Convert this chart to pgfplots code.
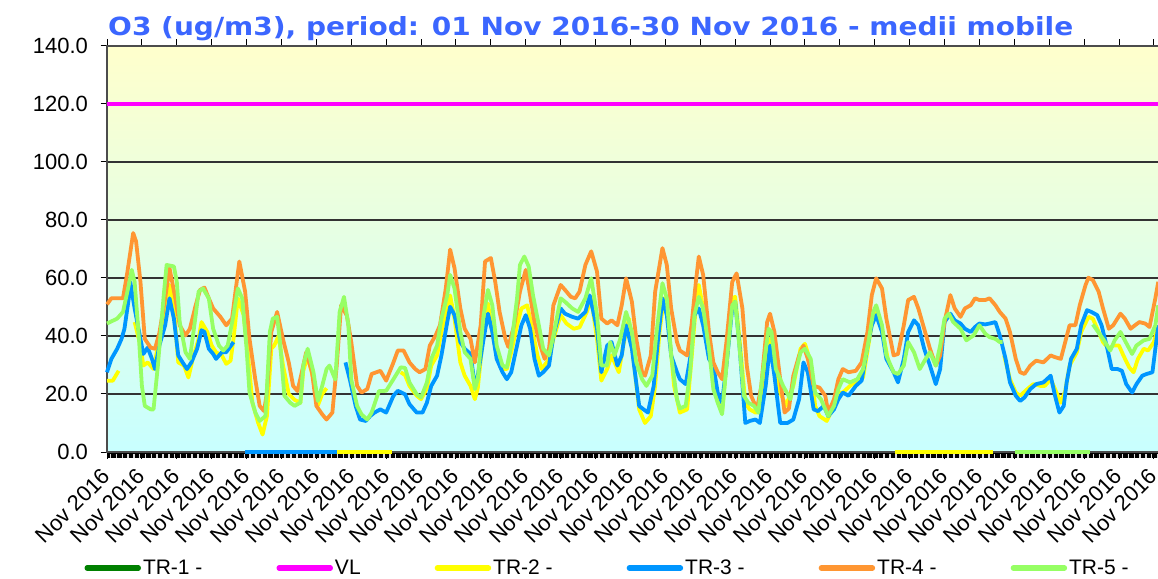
\documentclass[border=0pt]{standalone}
\usepackage{pgfplots}
\pgfplotsset{compat=1.18}
\usepackage{fontspec}
\setmainfont{Liberation Sans}
\newfontfamily\titlefont{DejaVu Sans}
\definecolor{tr1}{RGB}{0,128,0}
\definecolor{vl}{RGB}{255,0,255}
\definecolor{tr2}{RGB}{255,255,0}
\definecolor{tr3}{RGB}{0,150,255}
\definecolor{tr4}{RGB}{255,150,50}
\definecolor{tr5}{RGB}{150,255,100}
\definecolor{titleblue}{RGB}{59,102,255}
\definecolor{bgtop}{RGB}{255,255,204}
\definecolor{bgbot}{RGB}{200,255,255}
\begin{document}
\begin{tikzpicture}
% tick strip under the x axis (one mark every 4 hours)
\fill[black] (107pt,120pt) rectangle (1163pt,126pt);
\draw[white!85!black, line width=1.5pt, dash pattern=on 1.5pt off 4.316pt, dash phase=-2.9pt]
  (107pt,122pt) -- (1163pt,122pt);
\draw[white!85!black, line width=4pt, dash pattern=on 1.5pt off 4.316pt, dash phase=-2.9pt]
  (107pt,122pt) -- (1163pt,122pt);
\begin{axis}[
  at={(107pt,126pt)}, anchor=south west,
  scale only axis, width=1055.6pt, height=406pt,
  xmin=0, xmax=726, ymin=0, ymax=140,
  clip=false,
  unbounded coords=jump,
  axis background/.style={shade, top color=bgtop, bottom color=bgbot},
  axis line style={black!70, line width=1.2pt},
  ymajorgrids, major grid style={black!80, line width=1.2pt},
  ytick={0,20,...,140},
  xtick={0,24,...,720},
  xticklabel={Nov 2016},
  tick align=outside,
  major tick length=6.5pt,
  every tick/.style={black, line width=1pt},
  /pgf/number format/assume math mode=true,
  /pgf/number format/fixed, /pgf/number format/fixed zerofill, /pgf/number format/precision=1,
  yticklabel shift=9pt,
  yticklabel style={font=\fontsize{22}{26}\selectfont},
  xticklabel shift=13pt,
  xticklabel style={rotate=45, anchor=east, font=\fontsize{22}{26}\selectfont, inner sep=1pt},
  legend columns=6,
  legend style={draw=none, fill=none, inner sep=0pt, at={(-0.0215,-0.2857)}, anchor=west,
    font=\fontsize{21}{25}\selectfont,
    /tikz/every even column/.append style={column sep=72pt},
    /tikz/column 4/.append style={column sep=66pt}},
  legend image code/.code={\draw[#1, line width=5.5pt, line cap=round] (0pt,0pt) -- (51pt,0pt);},
  every axis plot/.append style={line width=3.8pt, line join=round},
]
\addlegendimage{tr1}
\addlegendentry{TR-1 -}
\addplot[vl, line width=4pt] coordinates {(0,120) (726,120)};
\addlegendentry{VL}
% TR-2
\addplot[tr2] coordinates {
(0,24.6)(4,24.6)(8,28)(9,nan)
(19,44.8)(23,36.7)(25,29.8)(28,30.9)(32,28.6)(36,39)(40,49.5)(43,57.6)(46,49.5)(49,30.9)(53,29.8)(56,25.7)(59,32.1)(63,39)(65,44.8)(69,41.4)(72,36.7)(75,34.4)(79,33.3)(82,30.4)(85,31.5)(87,39)(90,53)(94,47.2)(97,33.3)(100,17)(104,10)(107,6)(110,12.4)(113,35.6)(115,36.7)(118,40)(121,30)(125,20)(129,18)(133,17)(135,28)(138,33)(142,25)(145,16)(148,20)(151,22)(152,nan)
(202,27.5)(205,26.5)(208,22.8)(213,19.4)(216,18.2)(220,22)(223,29.8)(227,33.3)(230,41.4)(234,50.6)(236,54)(239,46)(243,30.9)(246,26.3)(250,22.8)(253,18.2)(255,22)(259,41.4)(262,51.2)(265,41.4)(268,33.3)(272,28.6)(275,28.6)(278,34.4)(282,43.7)(285,49.5)(289,50.6)(292,43.7)(296,33.3)(299,28.6)(304,32)(307,39)(312,47.2)(316,44.3)(321,42.5)(325,43)(330,48.3)(333,53)(337,39)(340,24.6)(344,28.6)(347,33.3)(352,27.5)(355,36.7)(359,46)(362,32.1)(366,14.7)(370,10)(374,12.4)(377,22.8)(380,41.4)(383,53)(386,45)(390,22.8)(394,13.6)(399,14.7)(402,32.1)(406,56.4)(407,57.6)(410,49.5)(414,33.3)(417,27.5)(420,18.2)(423,13.6)(426,29.8)(430,53)(432,53.5)(435,39)(439,17)(442,14.7)(446,13.6)(449,13.6)(453,27.5)(456,39)(459,30.9)(463,20.5)(467,15.9)(472,22.8)(477,35.6)(480,37.3)(484,30.9)(487,15.9)(490,12.4)(495,10.7)(500,15.9)(503,20.5)(506,20.5)(511,22.8)(516,24.6)(520,25.7)(524,37.9)(527,47.2)(530,48.3)(534,40)(537,32)(538,nan)
(617,33.3)(621,25.1)(625,20.5)(628,19.4)(633,21.7)(637,23.4)(642,22.8)(645,22.8)(649,25.1)(652,21.7)(656,17)(659,21)(662,29.8)(667,34.4)(670,41.4)(675,46.6)(678,46)(682,41.4)(685,37.9)(689,35.6)(692,36.7)(696,36.7)(699,33.3)(703,29.2)(706,27.5)(709,32.1)(713,35.6)(716,35)(720,37.9)(723,43.7)
};
\addlegendentry{TR-2 -}
% TR-3
\addplot[tr3] coordinates {
(0,27.5)(3,32.1)(7,35.6)(10,39)(12,42.5)(15,53)(16,58.7)(19,49.5)(23,39)(25,33.8)(28,36)(31,32)(33,28.6)(36,36.7)(40,43.7)(43,53)(46,46)(49,33.3)(52,30.9)(55,28.6)(58,30.9)(62,35.6)(65,42)(67,41.4)(70,35.6)(73,33.8)(75,32.1)(79,34.4)(82,34.4)(87,37.9)(88,nan)
(164,30.9)(167,25)(171,15.9)(174,11.2)(178,10.7)(181,12.4)(184,13.6)(188,14.7)(192,13.6)(197,19.4)(200,21.1)(205,19.9)(208,16.5)(213,13.6)(217,13.6)(220,17)(223,22.8)(227,26.3)(230,33.3)(234,44.8)(236,50.1)(239,47.2)(243,37.9)(246,35.6)(250,33.8)(253,22.8)(255,26.3)(259,39)(262,47.7)(265,41.4)(268,32.1)(272,27.5)(275,25.1)(278,27.5)(282,36.7)(285,43.7)(288,47.2)(291,42.5)(294,32.1)(297,26.3)(300,27.5)(304,29.8)(307,40.2)(312,49.5)(315,47.7)(320,46.6)(324,46)(329,48.3)(332,54)(337,42.5)(340,27.5)(344,36.7)(347,37.9)(351,29.8)(354,33.3)(357,43.7)(361,35.6)(366,15.9)(369,14.7)(372,13.6)(376,22.8)(379,39)(382,53)(385,47.2)(388,33.3)(392,27.5)(394,25.1)(398,23.4)(401,32.1)(404,47.2)(407,49.5)(410,43.7)(414,32.1)(417,29.8)(420,20.5)(423,17)(426,29.8)(430,49.5)(432,51.8)(435,36.7)(439,10)(442,10.7)(446,11.2)(449,10)(453,22.8)(456,36.7)(459,26.3)(463,10)(468,10)(472,11.2)(476,18.2)(479,30.9)(482,27.5)(486,14.7)(489,14.1)(493,15.9)(496,12.4)(500,14.7)(503,18.2)(506,20.5)(510,19.4)(515,22.8)(519,24.6)(523,36.7)(526,43.7)(529,47.2)(533,41.4)(536,32.1)(541,27.5)(544,24)(548,32.1)(551,41.4)(555,45.4)(558,43.7)(562,35.6)(566,29.8)(570,23.4)(573,28.6)(576,44.8)(580,47.7)(583,45.4)(587,44.3)(590,42.5)(594,41.4)(597,43.1)(600,44.3)(604,44)(607,44.3)(611,44.8)(614,40.2)(618,32.1)(621,24)(625,19.4)(628,17.6)(631,18.8)(635,21.7)(639,23.4)(644,24)(649,26.3)(652,19.4)(655,13.6)(658,15.9)(660,24)(663,32.1)(667,35.6)(670,43.7)(674,48.9)(677,48.3)(681,47.2)(684,43.7)(688,35.6)(691,28.6)(695,28.6)(698,28)(701,23.4)(705,20.5)(708,23.4)(712,26.3)(715,26.9)(719,27.5)(721,35.6)(723,43.7)
};
\addlegendentry{TR-3 -}
% TR-4
\addplot[tr4] coordinates {
(0,50.9)(3,53)(7,53)(11,53)(14,62)(18,75.5)(20,72.6)(23,58.7)(26,39)(30,36)(33,35.6)(36,41)(40,53)(43,63.4)(47,53)(50,43.7)(54,40.2)(57,42.5)(61,50.6)(64,55.9)(67,56.7)(70,53)(73,49.5)(78,46.6)(82,43.7)(86,46)(91,65.7)(95,55.3)(98,39)(102,25)(105,15.9)(108,14.1)(110,20.5)(113,41.4)(117,48.3)(121,39)(125,30.9)(128,22.8)(131,21)(134,27.5)(137,34.4)(141,27.5)(144,15.9)(148,13)(151,11.2)(155,13.6)(158,29.8)(161,50.6)(165,47)(168,37.9)(172,22.8)(175,20.5)(179,21.7)(182,26.9)(188,28)(192,24.6)(197,30.9)(200,35)(204,35)(208,30.9)(212,28.6)(215,27.5)(219,28.6)(222,36.7)(226,40.2)(229,43.7)(233,56.4)(236,69.8)(239,63.4)(243,49.5)(246,42.5)(250,39)(253,30.9)(257,43.7)(260,65.7)(264,66.9)(267,58.7)(270,48.3)(274,39)(276,36.2)(280,43.7)(284,55.3)(288,62.8)(291,54)(294,44.8)(298,36.7)(301,32.1)(304,35.6)(307,50.6)(312,57.6)(315,55.9)(319,53.5)(322,53)(325,55.3)(329,64.5)(333,69.2)(337,62.2)(340,46)(344,44.3)(347,45.4)(351,43.7)(354,50.6)(357,59.9)(361,51.8)(364,39)(368,27.5)(370,26.3)(374,33.3)(377,55.3)(382,70.3)(385,64.5)(388,49.5)(392,37.9)(394,35)(399,33.3)(402,43.7)(405,58.7)(407,67.4)(410,61.1)(414,41.4)(417,30.9)(420,27.5)(423,25.1)(426,37.9)(430,58.7)(433,61.6)(437,49.5)(440,29.8)(443,19.4)(447,14.7)(450,22.8)(454,44.8)(456,47.7)(459,41.4)(463,25.1)(466,13.6)(469,15)(472,26.3)(476,33.3)(479,36.7)(482,32.1)(486,22.8)(490,22.2)(494,19.4)(496,13.6)(500,18.2)(503,25.1)(506,28.6)(510,27.5)(515,28)(519,30.9)(523,41.4)(526,54.1)(529,59.9)(533,56.4)(536,46)(541,33.3)(544,33.8)(548,43.7)(551,52.4)(555,53.5)(558,49.5)(562,42.5)(566,35.6)(570,29.8)(573,33.3)(576,44.8)(580,54.1)(583,49.5)(587,46.6)(590,49.5)(594,50.6)(597,53)(600,52.4)(604,52.4)(607,53)(611,50.6)(614,48.3)(618,46)(621,41.4)(625,32.1)(628,27.5)(631,26.9)(635,29.8)(639,31.5)(644,30.9)(649,33.3)(652,32.7)(656,32.1)(659,37.9)(662,43.7)(666,43.7)(669,50.6)(673,57.6)(675,60.1)(678,59.3)(682,55.3)(685,49.5)(689,42.5)(692,43.7)(697,47.7)(700,46)(704,42.5)(707,43.7)(710,44.8)(714,44.3)(717,43.1)(721,53)(723,58.7)
};
\addlegendentry{TR-4 -}
% TR-5
\addplot[tr5] coordinates {
(0,44.3)(7,46)(11,48.3)(15,57.6)(17,62.8)(19,58.7)(22,39)(24,22.8)(26,15.9)(30,14.7)(32,14.7)(35,29.8)(39,54)(41,64.5)(46,64)(48,58.7)(50,44.8)(54,34.4)(57,32.1)(61,47.2)(63,55.3)(66,56.4)(70,53)(73,42.5)(77,36.7)(80,35)(83,36.7)(87,47.2)(90,56.4)(93,53)(96,35.6)(98,20.5)(102,13.6)(105,10.7)(109,12.4)(112,41.4)(114,46)(117,46.6)(119,37.9)(122,19.4)(126,17)(129,15.9)(133,17)(135,29.8)(138,35.6)(142,27.5)(145,17.6)(148,22.8)(151,28.6)(153,29.8)(157,25)(160,48.3)(163,53.5)(166,43.7)(168,25)(172,15.9)(175,13)(179,11.2)(182,13.6)(187,21)(192,21.1)(197,25.1)(202,29.2)(205,29)(208,24)(213,19.9)(216,18.8)(220,24)(223,32.1)(227,36.7)(230,46)(234,54)(236,61.1)(239,56.4)(243,41.4)(246,34.4)(250,32.1)(253,21.7)(255,25.1)(259,47.2)(262,55.9)(265,50.6)(268,36.7)(272,29.8)(275,29.2)(278,36.7)(282,53)(284,64.5)(287,67.4)(290,64)(293,54)(297,43.7)(300,35.6)(304,33.3)(307,40.2)(312,53)(315,51.8)(320,49.5)(324,48.3)(329,53)(333,59.9)(337,47.2)(340,29.8)(344,29.8)(346,37.9)(349,33.3)(353,39)(357,48.3)(361,41.4)(364,30.9)(368,25.1)(371,22.8)(375,26.3)(378,41.4)(382,58.2)(385,53)(388,33.3)(392,18.2)(394,15)(398,15.9)(401,27.5)(404,47.2)(407,53.5)(410,49.5)(414,35.6)(417,21.7)(420,17)(423,13)(426,29.8)(430,50.6)(432,51.8)(434,41.4)(438,19.4)(441,17)(445,15.9)(448,13.6)(451,27.5)(455,42.5)(457,41.4)(460,28.6)(465,22.8)(470,18.2)(473,26.3)(477,34.4)(480,35.6)(484,32.1)(487,20.5)(491,18.2)(496,12.4)(500,15.9)(503,21.7)(506,25.1)(511,24)(516,25.1)(520,28.6)(524,39)(527,48.3)(529,50.6)(533,43.7)(536,33.3)(541,27.5)(544,26.9)(548,29.8)(551,37.9)(555,34.4)(559,28.6)(563,32.1)(566,34.4)(570,29.8)(573,36.7)(576,46)(579,47.7)(582,44.8)(587,42.5)(591,38.5)(596,40.2)(600,43.7)(604,40.8)(607,39.6)(611,39)(614,37.9)(616,37.9)(617,nan)
(678,44)(685,39)(690,35)(693,38.5)(697,41.4)(700,38.5)(705,33.8)(708,36.7)(713,38.5)(717,39)(721,43.7)(723,50.6)
};
\addlegendentry{TR-5 -}
% missing data drawn at zero
\addplot[tr3, forget plot] coordinates {(95,0) (158,0)};
\addplot[tr2, forget plot] coordinates {(158,0) (196,0)};
\addplot[tr2, forget plot] coordinates {(542,0) (609,0)};
\addplot[tr5, forget plot] coordinates {(624.5,0) (676,0)};
\end{axis}
\node[anchor=base west, inner sep=0pt, text=titleblue, font=\titlefont\bfseries\fontsize{25}{30}\selectfont] at (108pt,542pt) {\scalebox{1.12}[1]{O3 (ug/m3), period: 01 Nov 2016-30 Nov 2016 - medii mobile}};
\pgfresetboundingbox
\path[use as bounding box] (0pt,0pt) rectangle (1158pt,578pt);
\end{tikzpicture}
\end{document}
